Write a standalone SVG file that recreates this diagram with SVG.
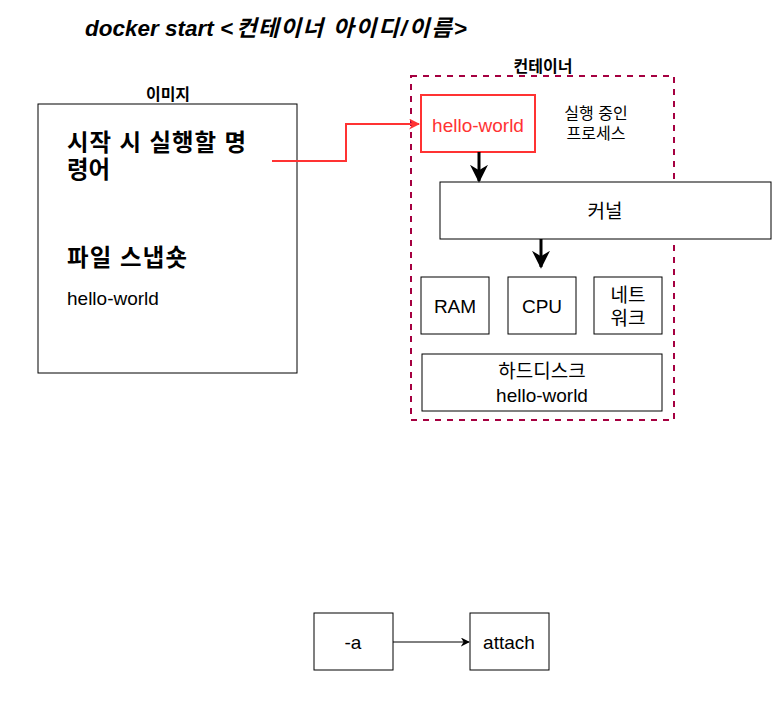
<svg xmlns="http://www.w3.org/2000/svg" width="774" height="712" viewBox="0 0 774 712">
<defs>
<style>
text{font-family:"Liberation Sans","Noto Sans CJK KR",sans-serif;fill:#000}
.box{fill:#fff;stroke:#000;stroke-width:1}
.t{font-size:19px;text-anchor:middle;dominant-baseline:central}
.t16{font-size:16px;text-anchor:middle;dominant-baseline:central}
.b{font-weight:bold}
.big{font-size:23.4px;font-weight:bold}
.title{font-size:22.5px;font-weight:bold;font-style:italic}
</style>
<marker id="ar" viewBox="0 0 10 10" refX="9" refY="5" markerWidth="9" markerHeight="9" markerUnits="userSpaceOnUse" orient="auto"><path d="M0,0 L10,5 L0,10 L3,5 Z" fill="#000"/></marker>
<marker id="arr" viewBox="0 0 10 10" refX="9" refY="5" markerWidth="11" markerHeight="11" markerUnits="userSpaceOnUse" orient="auto"><path d="M0,0 L10,5 L0,10 L3,5 Z" fill="#FF3333"/></marker>
<marker id="arb" viewBox="0 0 10 10" refX="9" refY="5" markerWidth="6" markerHeight="6" orient="auto"><path d="M0,0 L10,5 L0,10 L3,5 Z" fill="#000"/></marker>
</defs>
<rect width="774" height="712" fill="#fff"/>
<g id="title">
<text class="title" x="85" y="36">docker start &lt;</text>
<text class="title" x="236" y="36" textLength="87" lengthAdjust="spacing">컨테이너</text>
<text class="title" x="333" y="36" textLength="134" lengthAdjust="spacing">아이디/이름&gt;</text>
</g>

<g id="image">
<rect class="box" x="38" y="104" width="259" height="269"/>
<text class="t16 b" x="168" y="94">이미지</text>
<text class="big" x="67" y="151" textLength="179" lengthAdjust="spacing">시작 시 실행할 명</text>
<text class="big" x="67" y="178">령어</text>
<text class="big" x="67" y="266" textLength="120" lengthAdjust="spacing">파일 스냅숏</text>
<text x="67" y="305" font-size="19">hello-world</text>
</g>

<g id="container">
<rect x="411" y="76" width="263" height="344" fill="none" stroke="#A50040" stroke-width="2" stroke-dasharray="6 6"/>
<text class="t16 b" x="543" y="66">컨테이너</text>
</g>

<g id="process">
<rect x="421" y="95" width="114" height="57" fill="#fff" stroke="#FF3333" stroke-width="2"/>
<text class="t" x="478" y="125" style="fill:#FF3333">hello-world</text>
</g>
<g id="process-label">
<text class="t16" x="596" y="113">실행 중인</text>
<text class="t16" x="596" y="133">프로세스</text>
</g>

<g id="kernel">
<rect class="box" x="440" y="182" width="331" height="57"/>
<text class="t" x="605" y="211" font-size="18">커널</text>
</g>

<g id="ram"><rect class="box" x="421" y="277" width="68" height="57"/><text class="t" x="455" y="306">RAM</text></g>
<g id="cpu"><rect class="box" x="508" y="277" width="68" height="57"/><text class="t" x="542" y="306">CPU</text></g>
<g id="network"><rect class="box" x="594" y="277" width="68" height="57"/><text class="t" x="628" y="295">네트</text><text class="t" x="628" y="318">워크</text></g>
<g id="disk"><rect class="box" x="422" y="354" width="240" height="57"/><text class="t" x="542" y="371">하드디스크</text><text class="t" x="542" y="395">hello-world</text></g>

<g id="opt-a"><rect class="box" x="314" y="613" width="79" height="57"/><text class="t" x="353" y="642">-a</text></g>
<g id="attach"><rect class="box" x="470" y="613" width="79" height="57"/><text class="t" x="509" y="642">attach</text></g>

<g id="connectors" fill="none">
<path d="M272,161 H346 V124 H419" stroke="#FF3333" stroke-width="2" marker-end="url(#arr)"/>
<path d="M479,152 V181" stroke="#000" stroke-width="3" marker-end="url(#arb)"/>
<path d="M541,239 V267" stroke="#000" stroke-width="3" marker-end="url(#arb)"/>
<path d="M393,642 H469" stroke="#000" stroke-width="1" marker-end="url(#ar)"/>
</g>
</svg>
